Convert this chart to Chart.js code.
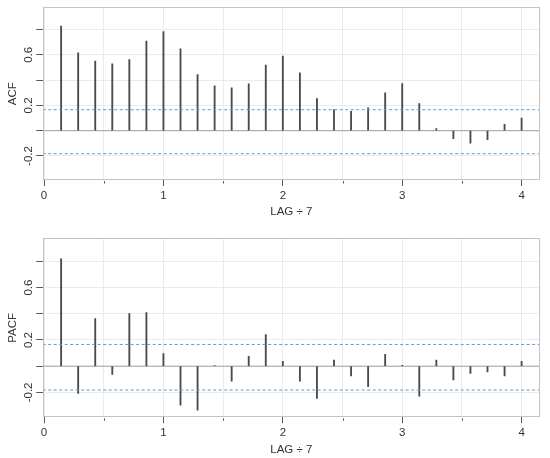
<!DOCTYPE html>
<html><head><meta charset="utf-8">
<script src="https://cdn.jsdelivr.net/npm/chart.js@4.4.1/dist/chart.umd.min.js"></script>
<style>
html,body{margin:0;padding:0;background:#fff;width:550px;height:458px;overflow:hidden}
.wrap{position:absolute;left:0;width:550px}
</style></head><body>
<div class="wrap" style="top:0;height:221px"><canvas id="c1" width="550" height="221"></canvas></div>
<div class="wrap" style="top:229px;height:229px"><canvas id="c2" width="550" height="229"></canvas></div>
<script>
// ---- data ----
const lags = [1,2,3,4,5,6,7,8,9,10,11,12,13,14,15,16,17,18,19,20,21,22,23,24,25,26,27,28];
const lagDivisor = 7;
const acfValues = [0.828,0.616,0.550,0.529,0.563,0.709,0.783,0.648,0.444,0.354,0.339,0.370,0.519,0.590,
                   0.458,0.254,0.167,0.153,0.180,0.299,0.373,0.214,0.016,-0.063,-0.098,-0.071,0.050,0.100];
const pacfValues = [0.820,-0.208,0.363,-0.063,0.401,0.409,0.097,-0.297,-0.335,0.004,-0.114,0.076,0.241,0.038,
                    -0.114,-0.246,0.046,-0.074,-0.157,0.091,0.006,-0.229,0.046,-0.104,-0.056,-0.043,-0.074,0.038];
const upperBound = 0.166;
const lowerBound = -0.182;
const xTickLabels = ['0','1','2','3','4'];
const xMinorTicks = [0.5,1.5,2.5,3.5];
const yTickValues = [-0.2,0,0.2,0.4,0.6,0.8];
const yTickLabels = ['-0.2','0.2','0.6'];
const xTitle = 'LAG \u00F7 7';
const xRange = [-0.0114, 4.154];
const yRange = [-0.39, 0.976];

const FONT = {family: '"Liberation Sans", Arial, sans-serif', size: 11.5};
const TXT = '#333333';
const GRID = '#ebebeb';
const TICK = '#595959';

const framePlugin = {
  id: 'frame',
  afterDraw(chart) {
    const {ctx, chartArea: a, scales: {x}} = chart;
    ctx.save();
    ctx.strokeStyle = '#c4c4c4';
    ctx.lineWidth = 1;
    ctx.strokeRect(Math.round(a.left) + 0.5, Math.round(a.top) + 0.5,
                   Math.round(a.right - a.left) - 1, Math.round(a.bottom - a.top) - 1);
    ctx.strokeStyle = TICK;
    xMinorTicks.forEach(v => {
      const px = Math.round(x.getPixelForValue(v)) + 0.5;
      ctx.beginPath(); ctx.moveTo(px, a.bottom + 1); ctx.lineTo(px, a.bottom + 3.5); ctx.stroke();
    });
    ctx.restore();
  }
};

function makeChart(id, yTitle, values, cfg) {
  const pts = lags.map((l, i) => ({x: l / lagDivisor, y: values[i]}));
  const hline = v => [{x: xRange[0], y: v}, {x: xRange[1], y: v}];
  const xTickVals = xTickLabels.map(Number).concat(xMinorTicks).sort((a, b) => a - b);
  return new Chart(document.getElementById(id), {
    type: 'bar',
    data: {
      datasets: [
        {type: 'line', data: hline(0), borderColor: '#a0a0a0', borderWidth: 1, pointRadius: 0, order: 3},
        {type: 'bar', data: pts, backgroundColor: '#4a4a4a', barThickness: 1.2, grouped: false, order: 2},
        {type: 'line', data: hline(upperBound), borderColor: '#5a9bd4', borderWidth: 1, borderDash: [3, 2.5], pointRadius: 0, order: 1},
        {type: 'line', data: hline(lowerBound), borderColor: '#5a9bd4', borderWidth: 1, borderDash: [3, 2.5], pointRadius: 0, order: 1}
      ]
    },
    options: {
      responsive: false,
      animation: false,
      devicePixelRatio: 1,
      layout: {padding: {top: cfg.padTop, right: 10, left: 0, bottom: 0}},
      plugins: {legend: {display: false}, tooltip: {enabled: false}},
      scales: {
        x: {
          type: 'linear', min: xRange[0], max: xRange[1], offset: false,
          afterBuildTicks: s => { s.ticks = xTickVals.map(v => ({value: v})); },
          afterFit: s => { s.height = cfg.xHeight; },
          border: {display: false},
          grid: {offset: false, color: GRID, lineWidth: 1, tickLength: 6,
                 tickColor: c => (c.tick && xTickLabels.includes(String(c.tick.value))) ? TICK : 'rgba(0,0,0,0)'},
          ticks: {autoSkip: false, maxRotation: 0, minRotation: 0, padding: cfg.xTickPad, color: TXT, font: FONT,
                  callback: v => xTickLabels.includes(String(v)) ? String(v) : ''},
          title: {display: true, text: xTitle, color: TXT, font: FONT, padding: cfg.xTitlePad}
        },
        y: {
          type: 'linear', min: yRange[0], max: yRange[1],
          afterBuildTicks: s => { s.ticks = yTickValues.map(v => ({value: v})); },
          afterFit: s => { s.width = 42.7; },
          border: {display: false},
          grid: {color: GRID, lineWidth: 1, tickLength: 6.5, tickColor: TICK},
          ticks: {autoSkip: false, minRotation: 90, maxRotation: 90, crossAlign: 'center', padding: cfg.yTickPad,
                  color: TXT, font: FONT,
                  callback: v => yTickLabels.includes(Number(v).toFixed(1)) ? Number(v).toFixed(1) : ''},
          title: {display: true, text: yTitle, color: TXT, font: FONT, padding: 6}
        }
      }
    },
    plugins: [framePlugin]
  });
}

makeChart('c1', 'ACF', acfValues, {padTop: 7.3, xHeight: 41, xTickPad: 3, xTitlePad: 2.4, yTickPad: -2.5});
makeChart('c2', 'PACF', pacfValues, {padTop: 9.3, xHeight: 40.7, xTickPad: 3, xTitlePad: 1.1, yTickPad: -2.5});
</script>
</body></html>
